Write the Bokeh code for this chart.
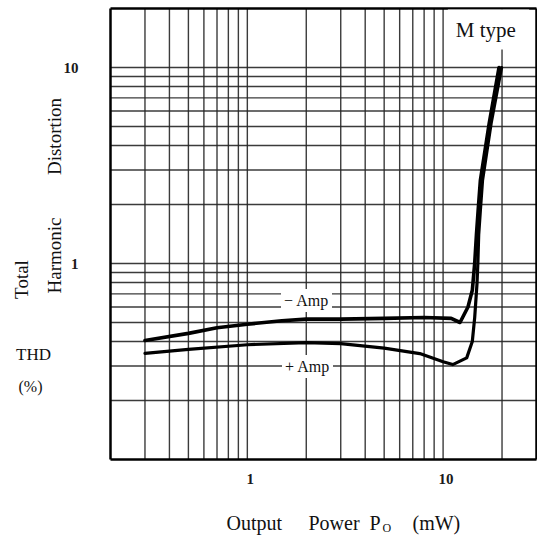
import math
from bokeh.plotting import figure
from bokeh.models import Label
from bokeh.core.properties import value
from bokeh.embed import file_html
from bokeh.resources import INLINE

# ---- data ----
x_minus = [0.3, 0.5, 0.7, 1.0, 1.5, 2.0, 3.0, 5.0, 8.0, 11.0, 12.2, 13.4, 14.1, 14.5, 14.8, 15.1, 15.5, 17.2, 19.3]
y_minus = [0.405, 0.44, 0.47, 0.49, 0.51, 0.52, 0.52, 0.525, 0.53, 0.525, 0.50, 0.60, 0.73, 1.0, 1.4, 1.86, 2.65, 5.2, 10.0]

x_plus = [0.3, 0.5, 1.0, 2.0, 3.0, 5.0, 7.6, 10.0, 11.2, 13.2, 14.1, 14.5, 14.9, 15.05, 15.2, 15.5, 15.9, 17.6, 19.9]
y_plus = [0.348, 0.365, 0.385, 0.395, 0.39, 0.37, 0.347, 0.315, 0.305, 0.33, 0.40, 0.53, 0.79, 1.0, 1.4, 1.86, 2.65, 5.2, 10.0]

x_grid = [0.3, 0.4, 0.5, 0.6, 0.7, 0.8, 0.9, 1, 2, 3, 4, 5, 6, 7, 8, 9, 10, 20]
y_grid = [0.2, 0.3, 0.4, 0.5, 0.6, 0.7, 0.8, 0.9, 1, 2, 3, 4, 5, 6, 7, 8, 9, 10]
x_ticks = [1, 10]
y_ticks = [1, 10]
x_tick_labels = ["1", "10"]
y_tick_labels = ["1", "10"]

X0, X1 = 0.2, 30     # plot box range (mW)
Y0, Y1 = 0.1, 20     # plot box range (%)

SERIF = "Liberation Serif"
W, H = 537, 540

# page-pixel position of the plot box
PX_LEFT, PX_RIGHT = 110, 536
PY_TOP, PY_BOTTOM = 8, 459
KX = (PX_RIGHT - PX_LEFT) / math.log10(X1 / X0)
KY = (PY_BOTTOM - PY_TOP) / math.log10(Y1 / Y0)

def dx(px):
    return 10 ** (math.log10(X0) + (px - PX_LEFT) / KX)

def dy(py):
    return 10 ** (math.log10(Y0) + (PY_BOTTOM - py) / KY)

p = figure(width=W, height=H, x_axis_type="log", y_axis_type="log",
           x_range=(dx(0), dx(W)), y_range=(dy(H), dy(0)),
           output_backend="svg", toolbar_location=None,
           min_border=0, x_axis_location=None, y_axis_location=None)
p.background_fill_color = "white"
p.border_fill_color = "white"
p.outline_line_color = None
p.grid.visible = False

GRID = "#262626"
# vertical grid lines
p.segment(x0=x_grid, y0=[Y0] * len(x_grid), x1=x_grid, y1=[Y1] * len(x_grid),
          line_color=GRID, line_width=1.4, line_alpha=0.9)
# horizontal grid lines
p.segment(x0=[X0] * len(y_grid), y0=y_grid, x1=[X1] * len(y_grid), y1=y_grid,
          line_color=GRID, line_width=1.4, line_alpha=0.9)
# plot box
p.segment(x0=[X0, X0, X1, X0], y0=[Y0, Y0, Y0, Y1], x1=[X0, X1, X1, X1], y1=[Y1, Y0, Y1, Y1],
          line_color="black", line_width=2.5)

# curves
p.line(x_minus, y_minus, line_color="black", line_width=3.6, line_join="round", line_cap="round")
p.line(x_plus, y_plus, line_color="black", line_width=3.2, line_join="round", line_cap="round")

# tick labels
p.text(x=x_ticks, y=[Y0] * len(x_ticks), text=x_tick_labels, x_offset=3, y_offset=19,
       text_font=value(SERIF), text_font_size="15px", text_font_style="bold",
       text_align="center", text_baseline="middle", text_color="#1a1a1a")
p.text(x=[X0] * len(y_ticks), y=y_ticks, text=y_tick_labels, x_offset=-32, y_offset=0,
       text_font=value(SERIF), text_font_size="15px", text_font_style="bold",
       text_align="right", text_baseline="middle", text_color="#1a1a1a")

# in-plot labels with white background
def boxed(text, px, py, size, pad):
    p.add_layout(Label(x=dx(px), y=dy(py), text=text, text_font=SERIF, text_font_size=size,
                       text_align="center", text_baseline="middle", text_color="#111",
                       background_fill_color="white", padding=pad))

boxed("M  type", 488, 29, "21px", 8)
boxed("\u2212 Amp", 306, 300, "16px", 3)
boxed("+ Amp", 307, 366, "16px", 3)

# outside labels
def txt(text, px, py, size, angle=0.0, align="center"):
    p.add_layout(Label(x=dx(px), y=dy(py), text=text, text_font=SERIF, text_font_size=size,
                       text_align=align, text_baseline="middle", text_color="#111",
                       angle=angle))

txt("Total", 21, 279, "19px", math.pi / 2)
txt("Harmonic", 54, 255, "19px", math.pi / 2)
txt("Distortion", 54, 136, "19px", math.pi / 2)
txt("THD", 33, 354, "17px")
txt("(%)", 30, 386, "16px")

# x-axis title: Output Power P_O (mW)
txt("Output", 226, 522, "20px", align="left")
txt("Power", 308, 522, "20px", align="left")
txt("P", 369, 522, "20px", align="left")
txt("O", 382, 527, "12px", align="left")
txt("(mW)", 412, 522, "20px", align="left")

open("out.html", "w").write(file_html(p, INLINE))
